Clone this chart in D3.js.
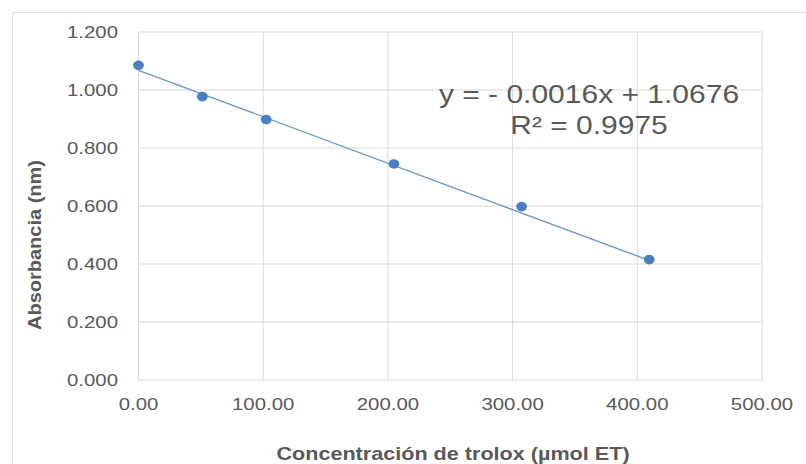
<!DOCTYPE html>
<html>
<head>
<meta charset="utf-8">
<script src="https://cdn.jsdelivr.net/npm/d3@7"></script>
<style>
  html, body { margin: 0; padding: 0; background: #fff; }
  svg { display: block; font-family: "Liberation Sans", Arial, sans-serif; }
</style>
</head>
<body>
<div class="chart"></div>
<script>
// data
const concentrations = [0, 51.2, 102.4, 204.8, 307.2, 409.6];
const absorbances = [1.085, 0.977, 0.898, 0.745, 0.598, 0.415];
const xTicks = [0, 100, 200, 300, 400, 500];
const yTicks = [0, 0.2, 0.4, 0.6, 0.8, 1.0, 1.2];
const slope = -0.0016;
const intercept = 1.0676;
const rSquared = 0.9975;

const width = 806, height = 464;
const plot = { left: 138.5, right: 762, top: 32, bottom: 380 };
const stretch = 1.2; // the picture is a bit wider than tall
const textColor = "#595959";
const gridColor = "#d9d9d9";

const svg = d3.select(".chart").append("svg")
  .attr("width", width)
  .attr("height", height);

// chart area frame
svg.append("rect")
  .attr("x", 12.5).attr("y", 12.5)
  .attr("width", width + 20).attr("height", height + 20)
  .attr("fill", "#fff")
  .attr("stroke", "#e3e3e3");

const x = d3.scaleLinear().domain([0, 500]).range([plot.left, plot.right]);
const y = d3.scaleLinear().domain([0, 1.2]).range([plot.bottom, plot.top]);

// grid
svg.append("g").selectAll("line")
  .data(xTicks)
  .join("line")
  .attr("x1", d => x(d)).attr("x2", d => x(d))
  .attr("y1", plot.top).attr("y2", plot.bottom)
  .attr("stroke", gridColor);

svg.append("g").selectAll("line")
  .data(yTicks)
  .join("line")
  .attr("x1", plot.left).attr("x2", plot.right)
  .attr("y1", d => y(d)).attr("y2", d => y(d))
  .attr("stroke", gridColor);

// stretched text helper
function label(parent, tx, ty, text, opts) {
  const g = parent.append("g")
    .attr("transform", "translate(" + tx + "," + ty + ") scale(" + (opts.sx || stretch) + ",1)" + (opts.rotate ? " rotate(" + opts.rotate + ")" : ""));
  return g.append("text")
    .attr("text-anchor", opts.anchor || "middle")
    .attr("font-size", opts.size)
    .attr("font-weight", opts.bold ? "bold" : "normal")
    .attr("fill", textColor)
    .text(text);
}

const fmtY = d3.format(".3f"), fmtX = d3.format(".2f");

const axes = svg.append("g");
yTicks.forEach(t => label(axes, 118, y(t) + 6, fmtY(t), { size: 17, anchor: "end" }));
xTicks.forEach(t => label(axes, x(t), 410, fmtX(t), { size: 17 }));

// axis titles
label(svg, 41, 245, "Absorbancia (nm)", { size: 20, bold: true, rotate: -90, sx: 0.9 });
label(svg, 453, 460, "Concentración de trolox (µmol ET)", { size: 18, bold: true });

// linear trendline
const xExtent = d3.extent(concentrations);
svg.append("line")
  .attr("x1", x(xExtent[0])).attr("y1", y(intercept + slope * xExtent[0]))
  .attr("x2", x(xExtent[1])).attr("y2", y(intercept + slope * xExtent[1]))
  .attr("stroke", "#6f97c4")
  .attr("stroke-width", 1.4);

// points
svg.append("g").selectAll("ellipse")
  .data(concentrations.map((c, i) => [c, absorbances[i]]))
  .join("ellipse")
  .attr("cx", d => x(d[0]))
  .attr("cy", d => y(d[1]))
  .attr("rx", 5.4).attr("ry", 4.8)
  .attr("fill", "#4a7fc1");

// equation
label(svg, 589, 103, "y = - " + Math.abs(slope).toFixed(4) + "x + " + intercept.toFixed(4), { size: 25 });
label(svg, 589, 134, "R² = " + rSquared.toFixed(4), { size: 25 });
</script>
</body>
</html>
